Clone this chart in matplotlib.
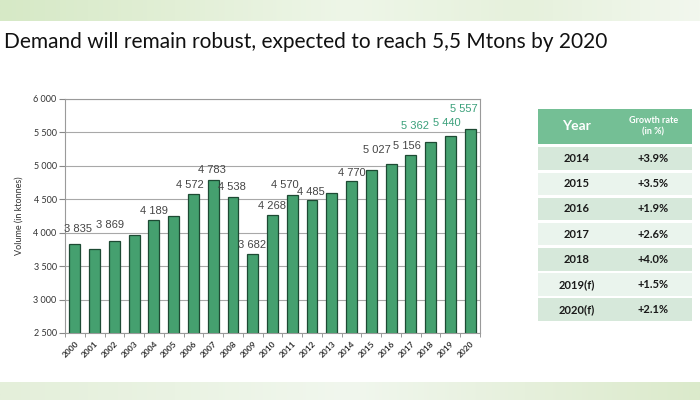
import numpy as np
import matplotlib
matplotlib.use("Agg")
import matplotlib.pyplot as plt
from matplotlib.patches import Rectangle
from matplotlib.colors import LinearSegmentedColormap

# ---------------- data ----------------
years = [str(y) for y in range(2000, 2021)]
volumes = [3835, 3750, 3869, 3965, 4189, 4250, 4572, 4783, 4538, 3682,
           4268, 4570, 4485, 4591, 4770, 4937, 5027, 5156, 5362, 5440, 5557]
labelled_years = ["2000", "2002", "2004", "2006", "2007", "2008", "2009", "2010",
                  "2011", "2012", "2014", "2016", "2017", "2018", "2019", "2020"]
highlight_years = ["2018", "2019", "2020"]
# label offsets (pixels: dx, dy above bar top)
label_dx = [3.5, -4, 0, -4, -1, -1, -1, -1, -7, -1, 0, -14, -4, -16, -4, -6]
label_dy = [15, 16, 9, 9, 10, 10, 9, 9, 10, 8, 8, 14, 9, 16, 13, 20]

y_ticks = [2500, 3000, 3500, 4000, 4500, 5000, 5500, 6000]
y_tick_labels = ["2 500", "3 000", "3 500", "4 000", "4 500", "5 000", "5 500", "6 000"]

table_years = ["2014", "2015", "2016", "2017", "2018", "2019(f)", "2020(f)"]
table_growth = ["+3.9%", "+3.5%", "+1.9%", "+2.6%", "+4.0%", "+1.5%", "+2.1%"]

title = "Demand will remain robust, expected to reach 5,5 Mtons by 2020"

# ---------------- style ----------------
BAR = "#45a06f"
BAR_EDGE = "#1d4a33"
LABEL_DARK = "#454545"
LABEL_GREEN = "#3aa07a"
HEADER = "#74bf95"
ROW_DARK = "#d6e8da"
ROW_LIGHT = "#eaf4ed"

fig = plt.figure(figsize=(7, 4), dpi=100)
fig.patch.set_facecolor("white")

# background bands
band_cmap_top = LinearSegmentedColormap.from_list(
    "top", ["#d6e9c6", "#e2efd6", "#eef6e8", "#e6f1dc", "#f2f7ee"])
band_cmap_bot = LinearSegmentedColormap.from_list(
    "bot", ["#e4efda", "#eaf3e3", "#f1f7ee", "#e6f0dc", "#dbeacb"])
grad = np.linspace(0, 1, 256).reshape(1, -1)
axt = fig.add_axes([0, 1 - 21 / 400, 1, 21 / 400])
axt.imshow(grad, aspect="auto", cmap=band_cmap_top, extent=[0, 1, 0, 1])
axt.axis("off")
axb = fig.add_axes([0, 0, 1, 18 / 400])
axb.imshow(grad, aspect="auto", cmap=band_cmap_bot, extent=[0, 1, 0, 1])
axb.axis("off")

# title
fig.text(4 / 700, 1 - 42 / 400, title, fontsize=15, family="Lato",
         color="#111111", va="center", ha="left")

# ---------------- bar chart ----------------
ax = fig.add_axes([65 / 700, 1 - 333 / 400, 415 / 700, 234 / 400])
x = np.arange(len(years))
ax.bar(x, volumes, width=0.55, color=BAR, edgecolor=BAR_EDGE, linewidth=0.9,
       zorder=3, bottom=0)
ax.set_xlim(-0.5, len(years) - 0.5)
ax.set_ylim(2500, 6000)
ax.set_yticks(y_ticks)
ax.set_yticklabels(y_tick_labels, fontsize=6.5, family="Lato", color="#333333")
ax.set_xticks(x)
ax.set_xticklabels(years, rotation=45, ha="right", va="top", fontsize=6,
                   family="Lato", fontweight="bold", color="#333333",
                   rotation_mode="anchor")
ax.set_xticks(np.arange(len(years) + 1) - 0.5, minor=True)
ax.tick_params(axis="x", which="major", length=0, pad=5)
ax.tick_params(axis="x", which="minor", length=3, color="#888888", direction="out")
ax.tick_params(axis="y", length=4, color="#888888", pad=2)
ax.grid(axis="y", color="#a8a8a8", linewidth=0.8, zorder=0)
for s in ax.spines.values():
    s.set_color("#9a9a9a")
    s.set_linewidth(0.8)
ax.set_ylabel("Volume (in ktonnes)", fontsize=6.5, family="Lato", color="#333333",
              labelpad=7)

for yr, dx, dy in zip(labelled_years, label_dx, label_dy):
    i = years.index(yr)
    v = volumes[i]
    txt = f"{v // 1000} {v % 1000:03d}"
    col = LABEL_GREEN if yr in highlight_years else LABEL_DARK
    ax.annotate(txt, (x[i], v), xytext=(dx * 0.72, dy * 0.72),
                textcoords="offset points", ha="center", va="center",
                fontsize=8, family="Liberation Sans", color=col, zorder=4)

# ---------------- table ----------------
axtab = fig.add_axes([538 / 700, 1 - 322 / 400, 154 / 700, 213 / 400])
n = len(table_years)
header_h = 1.48
gap = 0.1
axtab.set_xlim(0, 2)
axtab.set_ylim(header_h + n, 0)
axtab.axis("off")
for c in range(2):
    axtab.add_patch(Rectangle((c + 0.006, 0), 0.988, header_h - gap, color=HEADER, lw=0))
axtab.text(0.5, (header_h - gap) / 2, "Year", ha="center", va="center",
           fontsize=10, family="Lato", fontweight="bold", color="white")
axtab.text(1.5, (header_h - gap) / 2, "Growth rate\n(in %)", ha="center", va="center",
           fontsize=6.5, family="Lato", fontweight="bold", color="white", linespacing=1.3)
for r, (yr, gr) in enumerate(zip(table_years, table_growth)):
    y0 = header_h + r
    col = ROW_DARK if r % 2 == 0 else ROW_LIGHT
    for c in range(2):
        axtab.add_patch(Rectangle((c + 0.006, y0 + gap / 2), 0.988, 1 - gap, color=col, lw=0))
    axtab.text(0.5, y0 + 0.5, yr, ha="center", va="center", fontsize=8,
               family="Lato", fontweight="bold", color="#1a1a1a")
    axtab.text(1.5, y0 + 0.5, gr, ha="center", va="center", fontsize=8,
               family="Lato", fontweight="bold", color="#1a1a1a")

fig.savefig("out.png", dpi=100)
